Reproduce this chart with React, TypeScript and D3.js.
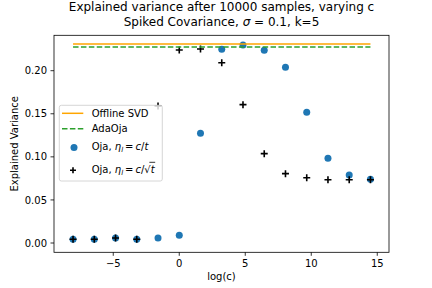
import React, { useLayoutEffect, useRef, useState } from "react";
import * as d3 from "d3";

const logC = [-8.047, -6.438, -4.828, -3.219, -1.609, 0, 1.609, 3.219, 4.828, 6.438, 8.047, 9.657, 11.266, 12.876, 14.485];
const ojaT = [0.0043, 0.0043, 0.0058, 0.0043, 0.0058, 0.0089, 0.1274, 0.2249, 0.2299, 0.2237, 0.204, 0.1517, 0.0983, 0.0788, 0.074];
const ojaSqrtT = [0.0043, 0.0043, 0.0058, 0.0043, 0.159, 0.224, 0.2252, 0.2093, 0.1606, 0.1037, 0.0805, 0.0758, 0.0735, 0.0735, 0.0735];
const offlineSVD = 0.231;
const adaOja = 0.2275;
const xTicks = [-5, 0, 5, 10, 15];
const yTicks = [0.0, 0.05, 0.1, 0.15, 0.2];

const W = 432, H = 288;
const L = 54, R = 389, T = 35.3, B = 252.3;
const FONT = "DejaVu Sans, sans-serif";
const ORANGE = "#ffa500";
const GREEN = "#2ca02c";
const BLUE = "#1f77b4";

export default function App() {
  const x = d3.scaleLinear().domain([-9.49, 15.89]).range([L, R]);
  const y = d3.scaleLinear().domain([0, 0.2]).range([243, 70.7]);
  const xMin = d3.min(logC)!, xMax = d3.max(logC)!;
  const textRef = useRef<SVGTextElement>(null);
  const [bar, setBar] = useState<[number, number]>([150, 157]);
  useLayoutEffect(() => {
    const el = textRef.current;
    if (!el) return;
    const n = el.getNumberOfChars();
    try {
      const sq = el.getStartPositionOfChar(n - 2).x;
      const end = el.getEndPositionOfChar(n - 1).x;
      setBar([sq + 5, end + 0.5]);
    } catch (e) {}
  }, []);
  const cross = (cx: number, cy: number, k: string, s = 3.5) => (
    <path key={k} d={`M${cx - s},${cy}H${cx + s}M${cx},${cy - s}V${cy + s}`} stroke="#000" strokeWidth={1.6} fill="none" />
  );
  const lx = 62, lx2 = 83.3, tx = 91.7;
  return (
    <svg width={W} height={H} style={{ position: "absolute", left: 0, top: 0, background: "#fff" }} fontFamily={FONT}>
      <rect x={0} y={0} width={W} height={H} fill="#fff" />
      <text x={221.5} y={10.5} fontSize={12} textAnchor="middle">Explained variance after 10000 samples, varying c</text>
      <text x={221.5} y={25.5} fontSize={12} textAnchor="middle">
        Spiked Covariance, <tspan fontStyle="italic">σ</tspan> = 0.1, k=5
      </text>
      {logC.map((v, i) => (
        <circle key={"b" + i} cx={x(v)} cy={y(ojaT[i])} r={3.5} fill={BLUE} />
      ))}
      {logC.map((v, i) => cross(x(v), y(ojaSqrtT[i]), "c" + i))}
      <line x1={x(xMin)} x2={x(xMax)} y1={y(offlineSVD)} y2={y(offlineSVD)} stroke={ORANGE} strokeWidth={1.5} />
      <line x1={x(xMin)} x2={x(xMax)} y1={y(adaOja)} y2={y(adaOja)} stroke={GREEN} strokeWidth={1.5} strokeDasharray="5.5,2.4" />
      <rect x={L} y={T} width={R - L} height={B - T} fill="none" stroke="#000" strokeWidth={0.8} />
      {xTicks.map((t) => (
        <g key={"xt" + t}>
          <line x1={x(t)} x2={x(t)} y1={B} y2={B + 3.5} stroke="#000" strokeWidth={0.8} />
          <text x={x(t)} y={B + 14.5} fontSize={10} textAnchor="middle">{t < 0 ? "\u2212" + Math.abs(t) : t}</text>
        </g>
      ))}
      {yTicks.map((t) => (
        <g key={"yt" + t}>
          <line x1={L - 3.5} x2={L} y1={y(t)} y2={y(t)} stroke="#000" strokeWidth={0.8} />
          <text x={L - 7} y={y(t) + 3.6} fontSize={10} textAnchor="end">{t.toFixed(2)}</text>
        </g>
      ))}
      <text x={221.5} y={280} fontSize={10} textAnchor="middle">log(c)</text>
      <text transform={`translate(17.5,${(T + B) / 2}) rotate(-90)`} fontSize={10} textAnchor="middle">Explained Variance</text>
      <rect x={59.3} y={105.3} width={103} height={75.7} rx={2} fill="#fff" fillOpacity={0.8} stroke="#cccccc" strokeWidth={0.8} />
      <line x1={lx} x2={lx2} y1={113.3} y2={113.3} stroke={ORANGE} strokeWidth={1.5} />
      <text x={tx} y={116.8} fontSize={10}>Offline SVD</text>
      <line x1={lx} x2={lx2} y1={128.7} y2={128.7} stroke={GREEN} strokeWidth={1.5} strokeDasharray="5.5,2.4" />
      <text x={tx} y={132.2} fontSize={10}>AdaOja</text>
      <circle cx={74} cy={147.5} r={3.5} fill={BLUE} />
      <text x={tx} y={149.5} fontSize={10}>
        Oja, <tspan fontStyle="italic">η</tspan><tspan fontStyle="italic" fontSize={7} dy={2}>l</tspan><tspan dy={-2}>{"\u2009=\u2009"}</tspan><tspan fontStyle="italic">c</tspan>/<tspan fontStyle="italic">t</tspan>
      </text>
      {cross(73, 170.3, "lc", 3)}
      <text ref={textRef} x={tx} y={172.5} fontSize={10}>
        Oja, <tspan fontStyle="italic">η</tspan><tspan fontStyle="italic" fontSize={7} dy={2}>l</tspan><tspan dy={-2}>{"\u2009=\u2009"}</tspan><tspan fontStyle="italic">c</tspan>/√<tspan fontStyle="italic">t</tspan>
      </text>
      <line x1={bar[0]} x2={bar[1]} y1={162.3} y2={162.3} stroke="#000" strokeWidth={0.8} />
    </svg>
  );
}
